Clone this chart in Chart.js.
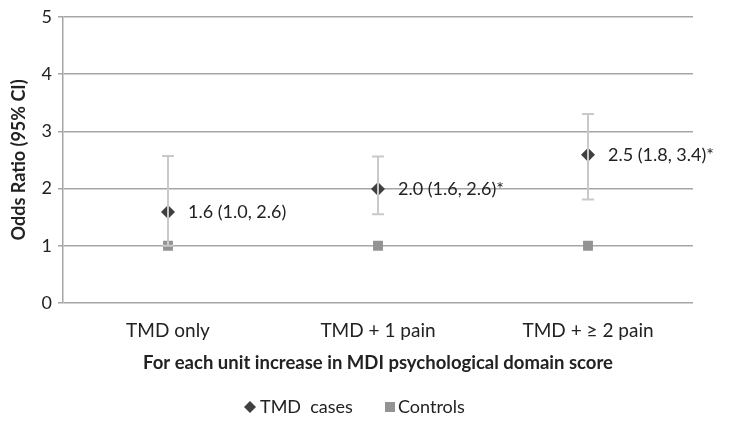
<!DOCTYPE html>
<html lang="en">
<head>
<meta charset="UTF-8">
<title>Odds ratio chart</title>
<script src="https://cdn.jsdelivr.net/npm/chart.js"></script>
<style>
  body { margin: 0; background: #fff; }
</style>
</head>
<body>
<canvas id="myChart" width="729" height="424"></canvas>
<script>
// values
const categories = ['TMD only', 'TMD + 1 pain', 'TMD + \u2265 2 pain'];
const caseOR = [1.59, 1.99, 2.59];
const caseLow = [1.0, 1.55, 1.81];
const caseHigh = [2.57, 2.56, 3.30];
const controlOR = [1, 1, 1];
const caseLabels = ['1.6 (1.0, 2.6)', '2.0 (1.6, 2.6)*', '2.5 (1.8, 3.4)*'];
const yTicks = [0, 1, 2, 3, 4, 5];

const FONT = 'Lato, Carlito, Calibri, sans-serif';
const gridGray = '#a6a6a6';

// error bars for TMD cases, drawn on top of the markers like the original
const errorBars = {
    id: 'errorBars',
    afterDatasetsDraw(chart) {
        const ctx = chart.ctx;
        const x = chart.scales.x, y = chart.scales.y;
        ctx.save();
        ctx.strokeStyle = '#c9c9c9';
        ctx.lineWidth = 2;
        for (let i = 0; i < categories.length; i++) {
            const px = x.getPixelForValue(i);
            const lo = y.getPixelForValue(caseLow[i]);
            const hi = y.getPixelForValue(caseHigh[i]);
            ctx.beginPath();
            ctx.moveTo(px, lo); ctx.lineTo(px, hi);
            ctx.moveTo(px - 6, lo); ctx.lineTo(px + 6, lo);
            ctx.moveTo(px - 6, hi); ctx.lineTo(px + 6, hi);
            ctx.stroke();
        }
        ctx.restore();
    }
};

// text next to each diamond
const valueLabels = {
    id: 'valueLabels',
    afterDatasetsDraw(chart) {
        const ctx = chart.ctx;
        const meta = chart.getDatasetMeta(0);
        ctx.save();
        ctx.font = '18px ' + FONT;
        ctx.fillStyle = '#222';
        ctx.textBaseline = 'middle';
        meta.data.forEach((pt, i) => {
            ctx.fillText(caseLabels[i], pt.x + 20, pt.y);
        });
        ctx.restore();
    }
};

// legend drawn by hand to match the spacing of the original
const sideLegend = {
    id: 'sideLegend',
    afterDraw(chart) {
        const ctx = chart.ctx;
        const ds = chart.data.datasets;
        const items = [{ x: 250, ds: ds[0] }, { x: 390, ds: ds[1] }];
        const yy = 407;
        ctx.save();
        ctx.font = '18px ' + FONT;
        ctx.textBaseline = 'middle';
        items.forEach(it => {
            ctx.fillStyle = it.ds.backgroundColor;
            ctx.beginPath();
            if (it.ds.pointStyle === 'rectRot') {
                ctx.moveTo(it.x, yy - 6); ctx.lineTo(it.x + 6, yy);
                ctx.lineTo(it.x, yy + 6); ctx.lineTo(it.x - 6, yy);
            } else {
                ctx.rect(it.x - 5, yy - 5, 10, 10);
            }
            ctx.closePath();
            ctx.fill();
            ctx.fillStyle = '#222';
            ctx.fillText(it.ds.label, it.x + (it.ds.pointStyle === 'rectRot' ? 10 : 8), yy);
        });
        ctx.restore();
    }
};

const ctx = document.getElementById('myChart').getContext('2d');
const myChart = new Chart(ctx, {
    type: 'line',
    data: {
        labels: categories,
        datasets: [
            {
                label: 'TMD  cases',
                data: caseOR,
                showLine: false,
                pointStyle: 'rectRot',
                pointRadius: 7,
                backgroundColor: '#404040',
                borderColor: '#404040',
                borderWidth: 0
            },
            {
                label: 'Controls',
                data: controlOR,
                showLine: false,
                pointStyle: 'rect',
                pointRadius: 7,
                backgroundColor: '#939393',
                borderColor: '#939393',
                borderWidth: 0
            }
        ]
    },
    options: {
        responsive: false,
        animation: false,
        layout: { padding: { top: 15, right: 36, bottom: 46, left: 0 } },
        plugins: {
            legend: { display: false },
            tooltip: { enabled: false }
        },
        scales: {
            x: {
                offset: true,
                grid: { display: false },
                border: { display: false },
                ticks: { font: { family: FONT, size: 19 }, color: '#222', padding: 8 },
                title: {
                    display: true,
                    text: 'For each unit increase in MDI psychological domain score',
                    font: { family: FONT, size: 18.5, weight: 'bold' },
                    color: '#222',
                    padding: { top: 2 }
                },
                afterFit(scale) { scale.height = 75; }
            },
            y: {
                min: 0,
                max: 5,
                afterBuildTicks(scale) { scale.ticks = yTicks.map(v => ({ value: v })); },
                grid: { color: gridGray, lineWidth: 1.5, tickLength: 5 },
                border: { color: gridGray, width: 1.5 },
                ticks: { font: { family: FONT, size: 18 }, color: '#222', padding: 6 },
                title: {
                    display: true,
                    text: 'Odds Ratio (95% CI)',
                    font: { family: FONT, size: 18, weight: 'bold' },
                    color: '#222',
                    padding: { top: 8, bottom: 0 }
                },
                afterFit(scale) { scale.width = 63; }
            }
        }
    },
    plugins: [errorBars, valueLabels, sideLegend]
});
</script>
</body>
</html>
